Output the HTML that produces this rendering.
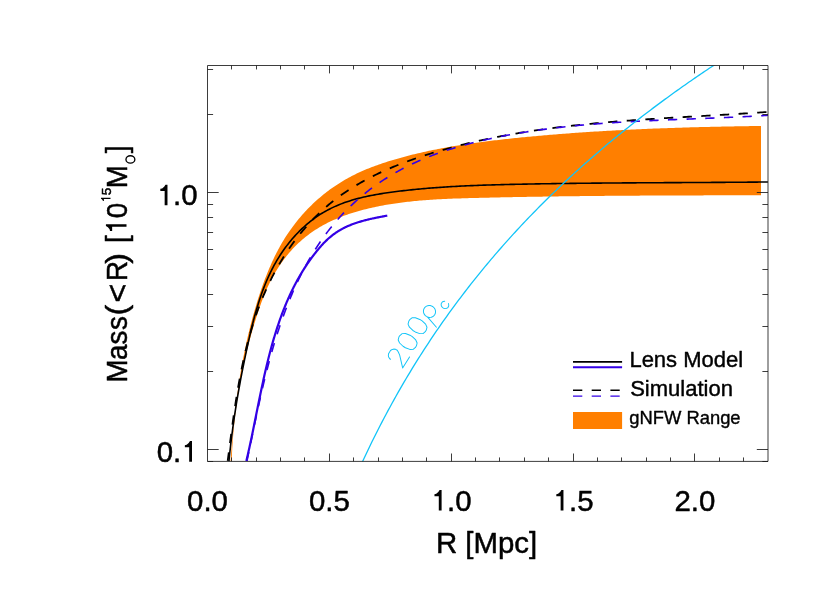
<!DOCTYPE html>
<html><head><meta charset="utf-8"><title>Mass profile</title>
<style>html,body{margin:0;padding:0;background:#fff;font-family:"Liberation Sans",sans-serif}svg{display:block}</style></head>
<body>
<svg width="830" height="593" viewBox="0 0 830 593" style="display:block">
<rect width="830" height="593" fill="#fff"/>
<defs><clipPath id="cp"><rect x="207.5" y="65.5" width="560.5" height="395.9"/></clipPath></defs>
<g clip-path="url(#cp)" fill="none" stroke-linecap="butt" stroke-linejoin="round">
<path d="M230.58,461.20 L230.71,459.36 L230.84,457.53 L230.97,455.70 L231.11,453.86 L231.24,452.02 L231.38,450.19 L231.53,448.35 L231.67,446.51 L231.82,444.67 L231.98,442.83 L232.13,441.00 L232.29,439.16 L232.45,437.32 L232.62,435.48 L232.78,433.64 L232.96,431.79 L233.13,429.95 L233.31,428.11 L233.49,426.27 L233.68,424.43 L233.86,422.59 L234.06,420.75 L234.25,418.90 L234.45,417.06 L234.66,415.22 L234.87,413.38 L235.08,411.54 L235.29,409.70 L235.51,407.86 L235.74,406.02 L235.96,404.18 L236.20,402.34 L236.43,400.50 L236.67,398.66 L236.92,396.82 L237.17,394.98 L237.42,393.14 L237.68,391.30 L237.94,389.47 L238.21,387.63 L238.48,385.79 L238.76,383.96 L239.04,382.12 L239.33,380.29 L239.62,378.46 L239.91,376.63 L240.22,374.79 L240.52,372.96 L240.83,371.13 L241.15,369.31 L241.47,367.48 L241.80,365.65 L242.13,363.82 L242.47,362.00 L242.81,360.18 L243.16,358.35 L243.51,356.53 L243.87,354.71 L244.23,352.89 L244.61,351.08 L244.98,349.26 L245.36,347.45 L245.75,345.63 L246.14,343.82 L246.54,342.01 L246.95,340.20 L247.36,338.39 L247.78,336.59 L248.20,334.78 L248.63,332.98 L249.07,331.18 L249.51,329.38 L249.96,327.58 L250.41,325.79 L250.87,323.99 L251.34,322.20 L251.82,320.41 L252.30,318.62 L252.79,316.84 L253.28,315.05 L253.78,313.27 L254.29,311.49 L254.80,309.71 L255.32,307.93 L255.85,306.16 L256.39,304.39 L256.93,302.62 L257.48,300.85 L258.04,299.08 L258.60,297.32 L259.17,295.56 L259.75,293.80 L260.34,292.05 L260.93,290.29 L261.54,288.54 L262.15,286.80 L262.76,285.05 L263.39,283.31 L264.03,281.58 L264.68,279.84 L265.33,278.12 L266.00,276.39 L266.68,274.67 L267.36,272.96 L268.06,271.25 L268.77,269.54 L269.49,267.84 L270.22,266.15 L270.97,264.46 L271.72,262.78 L272.49,261.10 L273.27,259.43 L274.07,257.77 L274.87,256.11 L275.69,254.46 L276.53,252.81 L277.38,251.18 L278.24,249.55 L279.12,247.93 L280.01,246.31 L280.92,244.71 L281.84,243.11 L282.78,241.52 L283.74,239.94 L284.71,238.37 L285.70,236.81 L286.70,235.25 L287.73,233.71 L288.76,232.17 L289.82,230.65 L290.89,229.13 L291.98,227.63 L293.09,226.14 L294.21,224.65 L295.34,223.18 L296.50,221.72 L297.66,220.27 L298.85,218.83 L300.05,217.41 L301.26,216.00 L302.49,214.60 L303.73,213.21 L304.99,211.83 L306.26,210.47 L307.55,209.12 L308.85,207.79 L310.16,206.47 L311.49,205.16 L312.83,203.87 L314.18,202.60 L315.55,201.34 L316.93,200.09 L318.32,198.86 L319.72,197.64 L321.14,196.45 L322.57,195.26 L324.01,194.10 L325.46,192.95 L326.92,191.82 L328.40,190.70 L329.88,189.60 L331.38,188.52 L332.89,187.46 L334.40,186.42 L335.93,185.39 L337.47,184.38 L339.02,183.39 L340.58,182.41 L342.15,181.46 L343.73,180.52 L345.32,179.59 L346.92,178.69 L348.53,177.80 L350.14,176.92 L351.77,176.07 L353.41,175.23 L355.05,174.40 L356.71,173.60 L358.37,172.81 L360.04,172.03 L361.72,171.28 L363.41,170.54 L365.11,169.81 L366.81,169.10 L368.52,168.40 L370.24,167.72 L371.96,167.05 L373.69,166.40 L375.43,165.76 L377.17,165.13 L378.92,164.51 L380.67,163.91 L382.43,163.32 L384.19,162.73 L385.95,162.16 L387.72,161.60 L389.49,161.05 L391.26,160.50 L393.04,159.97 L394.82,159.44 L396.60,158.93 L398.38,158.42 L400.16,157.92 L401.95,157.42 L403.74,156.93 L405.53,156.46 L407.32,155.98 L409.11,155.52 L410.90,155.06 L412.70,154.61 L414.50,154.17 L416.29,153.73 L418.10,153.31 L419.90,152.88 L421.70,152.47 L423.50,152.06 L425.31,151.66 L427.12,151.26 L428.93,150.87 L430.74,150.49 L432.55,150.12 L434.36,149.74 L436.18,149.38 L437.99,149.02 L439.81,148.67 L441.63,148.32 L443.44,147.98 L445.26,147.65 L447.09,147.31 L448.91,146.99 L450.73,146.67 L452.56,146.36 L454.38,146.05 L456.21,145.74 L458.03,145.44 L459.86,145.15 L461.69,144.86 L463.52,144.57 L465.35,144.29 L467.18,144.02 L469.02,143.75 L470.85,143.48 L472.68,143.22 L474.52,142.96 L476.35,142.70 L478.19,142.45 L480.03,142.20 L481.86,141.96 L483.70,141.72 L485.54,141.48 L487.38,141.25 L489.22,141.02 L491.06,140.80 L492.90,140.57 L494.74,140.35 L496.58,140.14 L498.42,139.92 L500.27,139.71 L502.11,139.50 L503.95,139.30 L505.79,139.09 L507.64,138.89 L509.48,138.70 L511.32,138.50 L513.17,138.31 L515.01,138.12 L516.86,137.93 L518.70,137.74 L520.54,137.55 L522.39,137.37 L524.23,137.19 L526.08,137.01 L527.92,136.83 L529.77,136.65 L531.61,136.48 L533.46,136.31 L535.30,136.14 L537.15,135.97 L539.00,135.80 L540.84,135.64 L542.69,135.48 L544.53,135.31 L546.38,135.16 L548.22,135.00 L550.07,134.84 L551.92,134.69 L553.76,134.54 L555.61,134.39 L557.46,134.24 L559.30,134.09 L561.15,133.94 L563.00,133.80 L564.84,133.66 L566.69,133.52 L568.54,133.38 L570.38,133.24 L572.23,133.11 L574.08,132.97 L575.93,132.84 L577.77,132.71 L579.62,132.58 L581.47,132.46 L583.32,132.33 L585.17,132.21 L587.01,132.08 L588.86,131.96 L590.71,131.84 L592.56,131.72 L594.41,131.61 L596.25,131.49 L598.10,131.38 L599.95,131.27 L601.80,131.16 L603.65,131.05 L605.50,130.94 L607.35,130.83 L609.20,130.73 L611.04,130.63 L612.89,130.52 L614.74,130.42 L616.59,130.33 L618.44,130.23 L620.29,130.13 L622.14,130.04 L623.99,129.94 L625.84,129.85 L627.69,129.76 L629.54,129.67 L631.39,129.58 L633.24,129.49 L635.09,129.41 L636.94,129.32 L638.79,129.24 L640.64,129.16 L642.49,129.08 L644.34,129.00 L646.19,128.92 L648.04,128.84 L649.89,128.76 L651.74,128.69 L653.59,128.62 L655.44,128.54 L657.29,128.47 L659.14,128.40 L660.99,128.33 L662.84,128.26 L664.70,128.20 L666.55,128.13 L668.40,128.07 L670.25,128.00 L672.10,127.94 L673.95,127.88 L675.80,127.82 L677.65,127.76 L679.51,127.70 L681.36,127.64 L683.21,127.58 L685.06,127.53 L686.91,127.47 L688.76,127.42 L690.61,127.37 L692.47,127.31 L694.32,127.26 L696.17,127.21 L698.02,127.16 L699.87,127.12 L701.73,127.07 L703.58,127.02 L705.43,126.98 L707.28,126.93 L709.13,126.89 L710.99,126.84 L712.84,126.80 L714.69,126.76 L716.54,126.72 L718.39,126.68 L720.25,126.64 L722.10,126.60 L723.95,126.56 L725.80,126.53 L727.66,126.49 L729.51,126.45 L731.36,126.42 L733.21,126.38 L735.07,126.35 L736.92,126.32 L738.77,126.29 L740.62,126.25 L742.48,126.22 L744.33,126.19 L746.18,126.16 L748.03,126.13 L749.89,126.10 L751.74,126.08 L753.59,126.05 L755.45,126.02 L757.30,126.00 L759.15,125.97 L761.00,125.95 L761.03,195.29 L759.25,195.30 L757.48,195.30 L755.71,195.30 L753.94,195.30 L752.17,195.30 L750.40,195.30 L748.63,195.31 L746.86,195.31 L745.09,195.31 L743.32,195.31 L741.55,195.31 L739.78,195.32 L738.01,195.32 L736.24,195.32 L734.47,195.32 L732.70,195.33 L730.93,195.33 L729.16,195.33 L727.39,195.33 L725.62,195.34 L723.85,195.34 L722.08,195.34 L720.31,195.34 L718.54,195.35 L716.77,195.35 L715.01,195.35 L713.24,195.36 L711.47,195.36 L709.70,195.36 L707.93,195.37 L706.16,195.37 L704.39,195.37 L702.63,195.38 L700.86,195.38 L699.09,195.39 L697.32,195.39 L695.55,195.40 L693.78,195.40 L692.02,195.41 L690.25,195.41 L688.48,195.42 L686.71,195.42 L684.95,195.43 L683.18,195.43 L681.41,195.44 L679.64,195.44 L677.88,195.45 L676.11,195.46 L674.34,195.46 L672.57,195.47 L670.81,195.47 L669.04,195.48 L667.27,195.49 L665.50,195.50 L663.74,195.50 L661.97,195.51 L660.20,195.52 L658.44,195.53 L656.67,195.53 L654.90,195.54 L653.13,195.55 L651.37,195.56 L649.60,195.57 L647.83,195.58 L646.07,195.59 L644.30,195.60 L642.53,195.61 L640.77,195.62 L639.00,195.63 L637.23,195.64 L635.47,195.65 L633.70,195.66 L631.93,195.67 L630.17,195.68 L628.40,195.69 L626.63,195.71 L624.87,195.72 L623.10,195.73 L621.33,195.74 L619.57,195.76 L617.80,195.77 L616.03,195.78 L614.27,195.80 L612.50,195.81 L610.73,195.83 L608.97,195.84 L607.20,195.86 L605.43,195.87 L603.67,195.89 L601.90,195.90 L600.13,195.92 L598.37,195.93 L596.60,195.95 L594.83,195.97 L593.07,195.99 L591.30,196.00 L589.53,196.02 L587.77,196.04 L586.00,196.06 L584.23,196.08 L582.46,196.09 L580.70,196.11 L578.93,196.13 L577.16,196.15 L575.40,196.17 L573.63,196.20 L571.86,196.22 L570.10,196.24 L568.33,196.26 L566.56,196.28 L564.80,196.30 L563.03,196.33 L561.26,196.35 L559.49,196.37 L557.73,196.40 L555.96,196.42 L554.19,196.45 L552.42,196.47 L550.66,196.50 L548.89,196.52 L547.12,196.55 L545.35,196.57 L543.59,196.60 L541.82,196.63 L540.05,196.66 L538.28,196.68 L536.52,196.71 L534.75,196.74 L532.98,196.77 L531.21,196.80 L529.44,196.83 L527.68,196.86 L525.91,196.89 L524.14,196.92 L522.37,196.95 L520.60,196.99 L518.83,197.02 L517.07,197.05 L515.30,197.09 L513.53,197.12 L511.76,197.15 L509.99,197.19 L508.22,197.22 L506.45,197.26 L504.68,197.30 L502.91,197.33 L501.15,197.37 L499.38,197.41 L497.61,197.44 L495.84,197.48 L494.07,197.52 L492.30,197.56 L490.53,197.60 L488.76,197.64 L486.99,197.68 L485.22,197.72 L483.45,197.76 L481.68,197.81 L479.91,197.85 L478.14,197.89 L476.37,197.93 L474.60,197.98 L472.83,198.02 L471.05,198.07 L469.28,198.12 L467.51,198.17 L465.74,198.22 L463.97,198.27 L462.20,198.32 L460.43,198.38 L458.66,198.43 L456.89,198.49 L455.12,198.56 L453.35,198.62 L451.58,198.69 L449.81,198.76 L448.05,198.83 L446.28,198.91 L444.51,198.99 L442.74,199.08 L440.98,199.17 L439.21,199.26 L437.44,199.36 L435.68,199.46 L433.91,199.57 L432.15,199.68 L430.38,199.79 L428.62,199.91 L426.86,200.04 L425.10,200.17 L423.34,200.31 L421.58,200.45 L419.82,200.60 L418.06,200.76 L416.30,200.92 L414.54,201.09 L412.79,201.27 L411.03,201.45 L409.28,201.64 L407.52,201.83 L405.77,202.04 L404.02,202.25 L402.27,202.47 L400.52,202.69 L398.77,202.93 L397.02,203.17 L395.28,203.43 L393.53,203.69 L391.79,203.96 L390.05,204.23 L388.30,204.52 L386.56,204.82 L384.83,205.12 L383.09,205.44 L381.35,205.77 L379.62,206.10 L377.89,206.45 L376.15,206.80 L374.42,207.17 L372.70,207.55 L370.97,207.94 L369.24,208.34 L367.52,208.75 L365.80,209.17 L364.08,209.60 L362.36,210.05 L360.65,210.51 L358.94,210.98 L357.24,211.47 L355.53,211.97 L353.84,212.48 L352.15,213.01 L350.46,213.55 L348.78,214.11 L347.11,214.68 L345.44,215.27 L343.78,215.87 L342.12,216.49 L340.47,217.13 L338.83,217.78 L337.20,218.45 L335.58,219.14 L333.97,219.85 L332.36,220.57 L330.76,221.32 L329.18,222.08 L327.60,222.86 L326.04,223.66 L324.48,224.48 L322.94,225.32 L321.41,226.18 L319.89,227.07 L318.38,227.97 L316.88,228.89 L315.40,229.84 L313.93,230.81 L312.47,231.80 L311.03,232.81 L309.60,233.85 L308.19,234.90 L306.79,235.98 L305.41,237.08 L304.04,238.20 L302.69,239.33 L301.36,240.49 L300.04,241.67 L298.74,242.87 L297.46,244.08 L296.19,245.31 L294.95,246.56 L293.72,247.83 L292.51,249.12 L291.32,250.42 L290.15,251.74 L289.00,253.08 L287.87,254.43 L286.75,255.80 L285.65,257.18 L284.58,258.57 L283.52,259.98 L282.48,261.41 L281.45,262.84 L280.45,264.30 L279.46,265.76 L278.49,267.23 L277.54,268.72 L276.61,270.22 L275.70,271.73 L274.80,273.25 L273.92,274.78 L273.06,276.33 L272.21,277.88 L271.39,279.44 L270.58,281.01 L269.79,282.59 L269.02,284.17 L268.26,285.77 L267.52,287.37 L266.80,288.98 L266.09,290.59 L265.40,292.21 L264.72,293.84 L264.06,295.47 L263.41,297.11 L262.77,298.76 L262.14,300.41 L261.53,302.06 L260.93,303.72 L260.33,305.38 L259.75,307.05 L259.17,308.72 L258.61,310.39 L258.05,312.07 L257.50,313.75 L256.95,315.43 L256.41,317.11 L255.88,318.80 L255.35,320.48 L254.83,322.17 L254.31,323.86 L253.80,325.55 L253.30,327.25 L252.80,328.94 L252.30,330.64 L251.82,332.34 L251.34,334.04 L250.86,335.75 L250.39,337.45 L249.92,339.16 L249.47,340.86 L249.01,342.57 L248.57,344.28 L248.12,346.00 L247.69,347.71 L247.26,349.43 L246.83,351.14 L246.42,352.86 L246.00,354.58 L245.60,356.30 L245.20,358.03 L244.80,359.75 L244.41,361.47 L244.03,363.20 L243.65,364.93 L243.28,366.66 L242.91,368.39 L242.55,370.12 L242.19,371.85 L241.84,373.59 L241.50,375.32 L241.16,377.06 L240.83,378.80 L240.50,380.54 L240.18,382.28 L239.87,384.02 L239.56,385.76 L239.25,387.50 L238.96,389.24 L238.66,390.99 L238.38,392.73 L238.10,394.48 L237.82,396.23 L237.55,397.98 L237.29,399.72 L237.03,401.47 L236.78,403.22 L236.53,404.98 L236.29,406.73 L236.06,408.48 L235.83,410.23 L235.61,411.99 L235.39,413.74 L235.18,415.50 L234.97,417.25 L234.77,419.01 L234.57,420.77 L234.39,422.52 L234.20,424.28 L234.02,426.04 L233.85,427.80 L233.69,429.56 L233.53,431.32 L233.37,433.08 L233.22,434.84 L233.08,436.60 L232.94,438.36 L232.81,440.12 L232.68,441.88 L232.56,443.64 L232.45,445.41 L232.34,447.17 L232.23,448.93 L232.14,450.69 L232.04,452.46 L231.96,454.22 L231.88,455.98 L231.80,457.74 L231.73,459.51 L231.67,461.27Z" fill="#ff7f00" stroke="none"/>
<path d="M228.95,461.35 L229.12,459.52 L229.30,457.69 L229.49,455.86 L229.68,454.03 L229.87,452.21 L230.06,450.39 L230.26,448.57 L230.46,446.75 L230.67,444.94 L230.88,443.13 L231.09,441.32 L231.31,439.51 L231.53,437.71 L231.76,435.91 L231.99,434.11 L232.22,432.31 L232.45,430.51 L232.69,428.72 L232.93,426.92 L233.18,425.13 L233.43,423.34 L233.68,421.55 L233.94,419.77 L234.20,417.98 L234.46,416.20 L234.73,414.42 L235.00,412.63 L235.27,410.85 L235.55,409.08 L235.83,407.30 L236.11,405.52 L236.40,403.74 L236.69,401.97 L236.98,400.20 L237.28,398.42 L237.58,396.65 L237.88,394.88 L238.19,393.11 L238.50,391.33 L238.81,389.56 L239.13,387.79 L239.45,386.02 L239.77,384.25 L240.10,382.48 L240.43,380.71 L240.76,378.94 L241.09,377.17 L241.43,375.40 L241.77,373.63 L242.12,371.86 L242.47,370.09 L242.82,368.32 L243.17,366.55 L243.53,364.78 L243.89,363.01 L244.25,361.24 L244.62,359.46 L244.99,357.69 L245.36,355.91 L245.73,354.14 L246.11,352.36 L246.49,350.58 L246.87,348.80 L247.26,347.02 L247.65,345.24 L248.04,343.46 L248.44,341.68 L248.83,339.89 L249.24,338.11 L249.64,336.32 L250.05,334.54 L250.47,332.75 L250.89,330.97 L251.32,329.18 L251.75,327.40 L252.19,325.62 L252.63,323.84 L253.09,322.06 L253.54,320.28 L254.01,318.51 L254.48,316.73 L254.97,314.96 L255.46,313.19 L255.95,311.43 L256.46,309.67 L256.98,307.91 L257.51,306.15 L258.04,304.40 L258.59,302.65 L259.15,300.91 L259.72,299.17 L260.30,297.44 L260.89,295.71 L261.49,293.99 L262.11,292.27 L262.74,290.56 L263.38,288.85 L264.04,287.15 L264.70,285.46 L265.39,283.77 L266.08,282.09 L266.79,280.41 L267.52,278.75 L268.26,277.09 L269.02,275.44 L269.79,273.79 L270.58,272.16 L271.38,270.53 L272.21,268.91 L273.05,267.30 L273.90,265.70 L274.78,264.11 L275.67,262.53 L276.58,260.96 L277.51,259.40 L278.45,257.85 L279.42,256.31 L280.40,254.78 L281.39,253.27 L282.41,251.77 L283.44,250.27 L284.49,248.80 L285.56,247.33 L286.64,245.88 L287.75,244.45 L288.86,243.02 L290.00,241.62 L291.15,240.22 L292.32,238.85 L293.50,237.49 L294.70,236.14 L295.92,234.81 L297.15,233.50 L298.40,232.21 L299.67,230.94 L300.95,229.68 L302.25,228.44 L303.56,227.22 L304.89,226.02 L306.23,224.84 L307.59,223.68 L308.97,222.54 L310.36,221.42 L311.76,220.32 L313.18,219.25 L314.62,218.19 L316.07,217.16 L317.53,216.15 L319.02,215.16 L320.51,214.20 L322.02,213.26 L323.54,212.34 L325.08,211.45 L326.64,210.59 L328.20,209.75 L329.79,208.93 L331.38,208.14 L332.99,207.37 L334.61,206.63 L336.24,205.90 L337.89,205.20 L339.55,204.53 L341.21,203.87 L342.89,203.24 L344.58,202.62 L346.28,202.03 L347.99,201.45 L349.71,200.90 L351.44,200.36 L353.18,199.84 L354.92,199.34 L356.68,198.85 L358.44,198.39 L360.21,197.93 L361.98,197.50 L363.76,197.08 L365.55,196.67 L367.34,196.28 L369.14,195.90 L370.95,195.53 L372.75,195.18 L374.57,194.84 L376.38,194.51 L378.20,194.19 L380.03,193.88 L381.85,193.59 L383.68,193.30 L385.51,193.02 L387.34,192.75 L389.17,192.49 L391.01,192.24 L392.84,191.99 L394.68,191.75 L396.51,191.52 L398.34,191.30 L400.18,191.07 L402.01,190.86 L403.84,190.65 L405.67,190.44 L407.49,190.24 L409.32,190.04 L411.14,189.85 L412.97,189.66 L414.79,189.48 L416.61,189.30 L418.43,189.12 L420.25,188.95 L422.07,188.79 L423.89,188.63 L425.70,188.47 L427.52,188.31 L429.33,188.17 L431.15,188.02 L432.96,187.88 L434.77,187.74 L436.58,187.60 L438.39,187.47 L440.20,187.34 L442.01,187.22 L443.82,187.10 L445.62,186.98 L447.43,186.87 L449.24,186.76 L451.04,186.65 L452.85,186.54 L454.65,186.44 L456.46,186.34 L458.26,186.25 L460.06,186.16 L461.86,186.07 L463.67,185.98 L465.47,185.89 L467.27,185.81 L469.07,185.73 L470.87,185.65 L472.67,185.58 L474.47,185.50 L476.27,185.43 L478.07,185.37 L479.87,185.30 L481.67,185.23 L483.47,185.17 L485.27,185.11 L487.07,185.05 L488.87,184.99 L490.67,184.94 L492.47,184.89 L494.27,184.83 L496.07,184.78 L497.87,184.73 L499.67,184.68 L501.47,184.64 L503.27,184.59 L505.07,184.55 L506.87,184.50 L508.68,184.46 L510.48,184.42 L512.28,184.38 L514.08,184.34 L515.89,184.30 L517.69,184.26 L519.49,184.23 L521.30,184.19 L523.10,184.15 L524.91,184.12 L526.71,184.08 L528.52,184.05 L530.32,184.01 L532.13,183.98 L533.94,183.95 L535.75,183.91 L537.55,183.88 L539.36,183.85 L541.17,183.82 L542.98,183.79 L544.79,183.76 L546.60,183.73 L548.41,183.71 L550.22,183.68 L552.03,183.65 L553.84,183.62 L555.65,183.60 L557.47,183.57 L559.28,183.55 L561.09,183.52 L562.90,183.50 L564.72,183.47 L566.53,183.45 L568.34,183.43 L570.16,183.41 L571.97,183.38 L573.79,183.36 L575.60,183.34 L577.41,183.32 L579.23,183.30 L581.04,183.28 L582.86,183.26 L584.68,183.24 L586.49,183.22 L588.31,183.20 L590.12,183.19 L591.94,183.17 L593.76,183.15 L595.57,183.13 L597.39,183.12 L599.21,183.10 L601.02,183.09 L602.84,183.07 L604.66,183.05 L606.48,183.04 L608.30,183.02 L610.11,183.01 L611.93,183.00 L613.75,182.98 L615.57,182.97 L617.39,182.95 L619.20,182.94 L621.02,182.93 L622.84,182.92 L624.66,182.90 L626.48,182.89 L628.30,182.88 L630.11,182.87 L631.93,182.86 L633.75,182.84 L635.57,182.83 L637.39,182.82 L639.21,182.81 L641.03,182.80 L642.85,182.79 L644.66,182.78 L646.48,182.77 L648.30,182.76 L650.12,182.75 L651.94,182.74 L653.76,182.73 L655.58,182.72 L657.39,182.71 L659.21,182.70 L661.03,182.69 L662.85,182.68 L664.67,182.67 L666.49,182.66 L668.30,182.65 L670.12,182.64 L671.94,182.63 L673.76,182.62 L675.57,182.61 L677.39,182.60 L679.21,182.59 L681.02,182.58 L682.84,182.57 L684.66,182.56 L686.47,182.56 L688.29,182.55 L690.11,182.54 L691.92,182.53 L693.74,182.52 L695.55,182.51 L697.37,182.50 L699.19,182.49 L701.00,182.48 L702.81,182.47 L704.63,182.46 L706.44,182.45 L708.26,182.44 L710.07,182.43 L711.88,182.42 L713.70,182.40 L715.51,182.39 L717.32,182.38 L719.14,182.37 L720.95,182.36 L722.76,182.35 L724.57,182.34 L726.38,182.32 L728.19,182.31 L730.00,182.30 L731.81,182.29 L733.62,182.27 L735.43,182.26 L737.24,182.25 L739.05,182.23 L740.86,182.22 L742.67,182.21 L744.47,182.19 L746.28,182.18 L748.09,182.16 L749.89,182.15 L751.70,182.13 L753.50,182.11 L755.31,182.10 L757.11,182.08 L758.92,182.06 L760.72,182.05 L762.52,182.03 L764.33,182.01 L766.13,181.99 L767.93,181.98" stroke="#000" stroke-width="1.6"/>
<path d="M227.69,460.99 L227.92,459.21 L228.15,457.42 L228.38,455.63 L228.61,453.84 L228.84,452.05 L229.07,450.25 L229.30,448.45 L229.53,446.65 L229.76,444.85 L229.99,443.04 L230.22,441.23 L230.46,439.42 L230.70,437.61 L230.93,435.80 L231.17,433.98 L231.41,432.17 L231.65,430.35 L231.90,428.53 L232.14,426.71 L232.39,424.88 L232.64,423.06 L232.89,421.24 L233.14,419.41 L233.40,417.58 L233.66,415.75 L233.92,413.92 L234.19,412.09 L234.45,410.26 L234.73,408.43 L235.00,406.60 L235.28,404.77 L235.56,402.93 L235.84,401.10 L236.13,399.27 L236.43,397.43 L236.72,395.60 L237.02,393.77 L237.33,391.93 L237.64,390.10 L237.95,388.27 L238.27,386.43 L238.60,384.60 L238.92,382.77 L239.26,380.94 L239.60,379.11 L239.94,377.28 L240.29,375.45 L240.64,373.62 L241.01,371.79 L241.37,369.97 L241.74,368.14 L242.12,366.32 L242.51,364.49 L242.90,362.67 L243.30,360.85 L243.70,359.03 L244.11,357.21 L244.53,355.40 L244.95,353.59 L245.38,351.77 L245.82,349.96 L246.27,348.16 L246.72,346.35 L247.18,344.55 L247.65,342.74 L248.12,340.94 L248.61,339.15 L249.10,337.35 L249.60,335.56 L250.11,333.77 L250.63,331.98 L251.15,330.20 L251.69,328.42 L252.23,326.64 L252.78,324.87 L253.34,323.09 L253.91,321.32 L254.49,319.56 L255.08,317.80 L255.68,316.04 L256.29,314.28 L256.90,312.53 L257.53,310.78 L258.17,309.04 L258.82,307.30 L259.47,305.56 L260.14,303.83 L260.82,302.10 L261.51,300.37 L262.21,298.65 L262.92,296.94 L263.65,295.22 L264.38,293.52 L265.13,291.81 L265.88,290.11 L266.65,288.42 L267.43,286.73 L268.22,285.05 L269.02,283.37 L269.83,281.70 L270.66,280.03 L271.50,278.37 L272.34,276.71 L273.20,275.06 L274.07,273.42 L274.95,271.78 L275.84,270.15 L276.75,268.52 L277.66,266.90 L278.59,265.29 L279.53,263.69 L280.48,262.09 L281.44,260.50 L282.41,258.91 L283.39,257.34 L284.38,255.77 L285.39,254.21 L286.40,252.66 L287.43,251.12 L288.47,249.58 L289.52,248.05 L290.58,246.54 L291.65,245.03 L292.73,243.53 L293.82,242.04 L294.93,240.55 L296.04,239.08 L297.17,237.62 L298.31,236.16 L299.46,234.72 L300.62,233.29 L301.79,231.86 L302.97,230.45 L304.16,229.05 L305.36,227.65 L306.58,226.27 L307.80,224.90 L309.04,223.54 L310.29,222.19 L311.55,220.85 L312.81,219.53 L314.09,218.21 L315.38,216.91 L316.69,215.62 L318.00,214.34 L319.32,213.07 L320.65,211.82 L322.00,210.58 L323.35,209.35 L324.72,208.13 L326.10,206.93 L327.49,205.74 L328.88,204.56 L330.29,203.40 L331.71,202.25 L333.14,201.11 L334.58,199.99 L336.03,198.88 L337.49,197.78 L338.97,196.70 L340.45,195.62 L341.94,194.56 L343.44,193.52 L344.94,192.48 L346.46,191.46 L347.99,190.45 L349.53,189.46 L351.07,188.47 L352.62,187.50 L354.19,186.53 L355.76,185.58 L357.33,184.64 L358.92,183.72 L360.51,182.80 L362.12,181.90 L363.72,181.00 L365.34,180.12 L366.96,179.25 L368.60,178.38 L370.23,177.53 L371.88,176.69 L373.53,175.86 L375.19,175.04 L376.85,174.23 L378.52,173.43 L380.20,172.64 L381.88,171.86 L383.57,171.09 L385.26,170.33 L386.96,169.58 L388.66,168.84 L390.37,168.10 L392.08,167.38 L393.80,166.66 L395.53,165.96 L397.25,165.26 L398.99,164.57 L400.72,163.89 L402.46,163.22 L404.21,162.55 L405.96,161.90 L407.71,161.25 L409.46,160.61 L411.22,159.98 L412.99,159.35 L414.75,158.73 L416.52,158.12 L418.29,157.52 L420.06,156.93 L421.84,156.34 L423.62,155.76 L425.40,155.18 L427.18,154.62 L428.96,154.06 L430.75,153.50 L432.53,152.95 L434.32,152.41 L436.11,151.88 L437.90,151.35 L439.69,150.82 L441.49,150.30 L443.28,149.79 L445.07,149.29 L446.87,148.79 L448.66,148.29 L450.46,147.80 L452.26,147.32 L454.05,146.84 L455.85,146.37 L457.65,145.90 L459.45,145.44 L461.25,144.98 L463.06,144.53 L464.86,144.08 L466.66,143.64 L468.47,143.21 L470.27,142.78 L472.08,142.35 L473.88,141.93 L475.69,141.52 L477.50,141.11 L479.31,140.70 L481.11,140.30 L482.92,139.91 L484.73,139.52 L486.55,139.13 L488.36,138.75 L490.17,138.38 L491.98,138.01 L493.80,137.64 L495.61,137.28 L497.43,136.92 L499.24,136.57 L501.06,136.22 L502.88,135.88 L504.69,135.54 L506.51,135.20 L508.33,134.87 L510.15,134.54 L511.97,134.22 L513.79,133.90 L515.61,133.59 L517.43,133.28 L519.25,132.97 L521.08,132.67 L522.90,132.37 L524.73,132.08 L526.55,131.79 L528.37,131.50 L530.20,131.22 L532.03,130.94 L533.85,130.67 L535.68,130.40 L537.51,130.13 L539.34,129.87 L541.16,129.61 L542.99,129.35 L544.82,129.10 L546.65,128.85 L548.48,128.60 L550.32,128.36 L552.15,128.12 L553.98,127.88 L555.81,127.65 L557.64,127.42 L559.48,127.19 L561.31,126.97 L563.15,126.75 L564.98,126.53 L566.81,126.32 L568.65,126.11 L570.49,125.90 L572.32,125.69 L574.16,125.49 L576.00,125.29 L577.83,125.09 L579.67,124.90 L581.51,124.71 L583.35,124.52 L585.19,124.33 L587.03,124.15 L588.87,123.97 L590.70,123.79 L592.54,123.61 L594.39,123.44 L596.23,123.27 L598.07,123.10 L599.91,122.93 L601.75,122.76 L603.59,122.60 L605.43,122.44 L607.28,122.28 L609.12,122.13 L610.96,121.97 L612.81,121.82 L614.65,121.67 L616.49,121.52 L618.34,121.37 L620.18,121.23 L622.03,121.08 L623.87,120.94 L625.72,120.80 L627.56,120.67 L629.41,120.53 L631.25,120.39 L633.10,120.26 L634.94,120.13 L636.79,120.00 L638.64,119.87 L640.48,119.74 L642.33,119.62 L644.18,119.49 L646.02,119.37 L647.87,119.25 L649.72,119.12 L651.57,119.00 L653.41,118.88 L655.26,118.77 L657.11,118.65 L658.96,118.53 L660.81,118.42 L662.65,118.30 L664.50,118.19 L666.35,118.08 L668.20,117.97 L670.05,117.85 L671.90,117.74 L673.74,117.63 L675.59,117.52 L677.44,117.42 L679.29,117.31 L681.14,117.20 L682.99,117.09 L684.84,116.99 L686.69,116.88 L688.53,116.77 L690.38,116.67 L692.23,116.56 L694.08,116.45 L695.93,116.35 L697.78,116.24 L699.63,116.14 L701.48,116.03 L703.32,115.93 L705.17,115.82 L707.02,115.72 L708.87,115.61 L710.72,115.51 L712.57,115.40 L714.42,115.29 L716.26,115.19 L718.11,115.08 L719.96,114.97 L721.81,114.86 L723.66,114.76 L725.50,114.65 L727.35,114.54 L729.20,114.43 L731.05,114.32 L732.89,114.21 L734.74,114.09 L736.59,113.98 L738.44,113.87 L740.28,113.75 L742.13,113.64 L743.98,113.52 L745.82,113.40 L747.67,113.29 L749.51,113.17 L751.36,113.05 L753.20,112.92 L755.05,112.80 L756.90,112.68 L758.74,112.55 L760.58,112.43 L762.43,112.30 L764.27,112.17 L766.12,112.04 L767.96,111.91" stroke="#000" stroke-width="1.8" stroke-dasharray="9.3 9.370" stroke-dashoffset="0.684"/>
<path d="M246.35,460.92 L246.52,460.21 L246.69,459.49 L246.86,458.77 L247.03,458.06 L247.19,457.34 L247.36,456.62 L247.53,455.90 L247.69,455.18 L247.86,454.45 L248.02,453.73 L248.19,453.01 L248.35,452.28 L248.52,451.56 L248.68,450.83 L248.84,450.11 L249.00,449.38 L249.16,448.65 L249.32,447.92 L249.48,447.20 L249.64,446.47 L249.80,445.74 L249.96,445.00 L250.12,444.27 L250.28,443.54 L250.43,442.81 L250.59,442.07 L250.75,441.34 L250.90,440.60 L251.06,439.87 L251.22,439.13 L251.37,438.40 L251.53,437.66 L251.68,436.92 L251.83,436.18 L251.99,435.44 L252.14,434.71 L252.30,433.97 L252.45,433.23 L252.60,432.48 L252.75,431.74 L252.91,431.00 L253.06,430.26 L253.21,429.52 L253.36,428.77 L253.51,428.03 L253.67,427.28 L253.82,426.54 L253.97,425.79 L254.12,425.05 L254.27,424.30 L254.42,423.56 L254.57,422.81 L254.72,422.06 L254.87,421.32 L255.02,420.57 L255.18,419.82 L255.33,419.07 L255.48,418.32 L255.63,417.57 L255.78,416.82 L255.93,416.07 L256.08,415.32 L256.23,414.57 L256.38,413.82 L256.53,413.07 L256.68,412.32 L256.83,411.57 L256.98,410.81 L257.14,410.06 L257.29,409.31 L257.44,408.56 L257.59,407.80 L257.74,407.05 L257.89,406.30 L258.05,405.54 L258.20,404.79 L258.35,404.04 L258.50,403.28 L258.66,402.53 L258.81,401.77 L258.96,401.02 L259.12,400.26 L259.27,399.51 L259.42,398.75 L259.58,398.00 L259.73,397.24 L259.89,396.49 L260.05,395.73 L260.20,394.98 L260.36,394.22 L260.51,393.46 L260.67,392.71 L260.83,391.95 L260.99,391.20 L261.15,390.44 L261.30,389.68 L261.46,388.93 L261.62,388.17 L261.78,387.42 L261.94,386.66 L262.11,385.90 L262.27,385.15 L262.43,384.39 L262.59,383.64 L262.76,382.88 L262.92,382.12 L263.08,381.37 L263.25,380.61 L263.42,379.86 L263.58,379.10 L263.75,378.35 L263.92,377.59 L264.08,376.84 L264.25,376.08 L264.42,375.33 L264.59,374.57 L264.76,373.82 L264.94,373.06 L265.11,372.31 L265.28,371.55 L265.45,370.80 L265.63,370.05 L265.80,369.29 L265.98,368.54 L266.16,367.79 L266.34,367.03 L266.51,366.28 L266.69,365.53 L266.87,364.78 L267.05,364.02 L267.24,363.27 L267.42,362.52 L267.60,361.77 L267.79,361.02 L267.97,360.27 L268.16,359.52 L268.35,358.77 L268.53,358.02 L268.72,357.27 L268.91,356.52 L269.10,355.77 L269.30,355.02 L269.49,354.28 L269.68,353.53 L269.88,352.78 L270.07,352.03 L270.27,351.29 L270.47,350.54 L270.67,349.80 L270.87,349.05 L271.07,348.31 L271.27,347.56 L271.48,346.82 L271.68,346.08 L271.89,345.33 L272.10,344.59 L272.31,343.85 L272.51,343.11 L272.73,342.37 L272.94,341.63 L273.15,340.89 L273.37,340.15 L273.58,339.41 L273.80,338.67 L274.02,337.93 L274.24,337.20 L274.46,336.46 L274.68,335.73 L274.90,334.99 L275.13,334.26 L275.35,333.52 L275.58,332.79 L275.81,332.06 L276.04,331.32 L276.27,330.59 L276.50,329.86 L276.74,329.13 L276.97,328.40 L277.21,327.67 L277.45,326.94 L277.69,326.22 L277.93,325.49 L278.18,324.76 L278.42,324.04 L278.67,323.31 L278.91,322.59 L279.16,321.87 L279.41,321.14 L279.67,320.42 L279.92,319.70 L280.18,318.98 L280.43,318.26 L280.69,317.54 L280.95,316.83 L281.21,316.11 L281.48,315.39 L281.74,314.68 L282.01,313.96 L282.28,313.25 L282.55,312.54 L282.82,311.83 L283.09,311.11 L283.37,310.40 L283.65,309.70 L283.93,308.99 L284.21,308.28 L284.49,307.57 L284.77,306.87 L285.06,306.16 L285.35,305.46 L285.64,304.76 L285.93,304.05 L286.22,303.35 L286.52,302.65 L286.81,301.95 L287.11,301.26 L287.41,300.56 L287.72,299.86 L288.02,299.17 L288.33,298.48 L288.64,297.78 L288.95,297.09 L289.26,296.40 L289.57,295.71 L289.89,295.02 L290.21,294.33 L290.53,293.65 L290.85,292.96 L291.17,292.28 L291.50,291.59 L291.83,290.91 L292.16,290.23 L292.49,289.55 L292.83,288.87 L293.16,288.20 L293.50,287.52 L293.84,286.84 L294.19,286.17 L294.53,285.50 L294.88,284.82 L295.23,284.15 L295.58,283.49 L295.94,282.82 L296.29,282.15 L296.65,281.48 L297.01,280.82 L297.38,280.16 L297.74,279.50 L298.11,278.83 L298.48,278.18 L298.85,277.52 L299.23,276.86 L299.60,276.21 L299.98,275.55 L300.36,274.90 L300.75,274.25 L301.14,273.60 L301.52,272.95 L301.92,272.30 L302.31,271.65 L302.70,271.01 L303.10,270.37 L303.50,269.72 L303.91,269.08 L304.31,268.44 L304.72,267.81 L305.13,267.17 L305.55,266.54 L305.96,265.90 L306.38,265.27 L306.80,264.64 L307.22,264.01 L307.65,263.38 L308.08,262.76 L308.51,262.13 L308.94,261.51 L309.38,260.89 L309.82,260.27 L310.26,259.65 L310.70,259.03 L311.15,258.42 L311.60,257.80 L312.05,257.19 L312.51,256.58 L312.97,255.97 L313.43,255.36 L313.89,254.76 L314.36,254.15 L314.82,253.55 L315.30,252.95 L315.77,252.35 L316.25,251.75 L316.73,251.15 L317.21,250.56 L317.70,249.96 L318.18,249.37 L318.68,248.78 L319.17,248.20 L319.67,247.61 L320.17,247.03 L320.67,246.45 L321.18,245.88 L321.69,245.31 L322.21,244.74 L322.73,244.17 L323.25,243.61 L323.78,243.06 L324.31,242.51 L324.85,241.96 L325.39,241.42 L325.94,240.88 L326.49,240.35 L327.05,239.83 L327.61,239.31 L328.17,238.79 L328.74,238.28 L329.32,237.78 L329.90,237.29 L330.48,236.80 L331.07,236.31 L331.66,235.83 L332.26,235.36 L332.86,234.90 L333.47,234.44 L334.08,233.99 L334.70,233.54 L335.32,233.10 L335.95,232.67 L336.58,232.24 L337.22,231.83 L337.86,231.41 L338.50,231.01 L339.15,230.61 L339.81,230.22 L340.47,229.84 L341.13,229.46 L341.80,229.09 L342.47,228.73 L343.15,228.37 L343.83,228.02 L344.52,227.68 L345.21,227.34 L345.90,227.01 L346.59,226.69 L347.29,226.37 L348.00,226.06 L348.70,225.76 L349.41,225.46 L350.13,225.16 L350.84,224.88 L351.56,224.59 L352.28,224.32 L353.01,224.04 L353.73,223.78 L354.46,223.52 L355.19,223.26 L355.93,223.01 L356.66,222.76 L357.40,222.52 L358.14,222.29 L358.88,222.05 L359.62,221.83 L360.37,221.60 L361.12,221.38 L361.86,221.17 L362.61,220.96 L363.36,220.75 L364.11,220.55 L364.86,220.35 L365.62,220.15 L366.37,219.96 L367.12,219.77 L367.88,219.59 L368.63,219.41 L369.39,219.23 L370.14,219.05 L370.90,218.88 L371.65,218.71 L372.41,218.54 L373.16,218.38 L373.91,218.22 L374.67,218.06 L375.42,217.90 L376.17,217.75 L376.92,217.60 L377.67,217.45 L378.42,217.30 L379.17,217.15 L379.92,217.01 L380.66,216.87 L381.41,216.73 L382.15,216.59 L382.89,216.45 L383.63,216.31 L384.36,216.18 L385.10,216.04 L385.83,215.91 L386.56,215.78 L387.29,215.64" stroke="#3300e6" stroke-width="2.2"/>
<path d="M246.95,461.14 L247.31,459.41 L247.67,457.67 L248.03,455.94 L248.39,454.21 L248.75,452.47 L249.11,450.73 L249.47,448.99 L249.83,447.25 L250.19,445.51 L250.55,443.77 L250.91,442.03 L251.27,440.28 L251.63,438.53 L251.99,436.79 L252.35,435.04 L252.72,433.29 L253.08,431.54 L253.44,429.79 L253.81,428.04 L254.17,426.29 L254.54,424.54 L254.91,422.78 L255.28,421.03 L255.65,419.27 L256.02,417.52 L256.39,415.76 L256.77,414.01 L257.14,412.25 L257.52,410.50 L257.90,408.74 L258.29,406.99 L258.67,405.23 L259.06,403.47 L259.44,401.72 L259.84,399.96 L260.23,398.21 L260.63,396.45 L261.02,394.70 L261.43,392.94 L261.83,391.19 L262.24,389.43 L262.65,387.68 L263.06,385.92 L263.47,384.17 L263.89,382.42 L264.32,380.67 L264.74,378.92 L265.17,377.17 L265.60,375.42 L266.04,373.67 L266.48,371.92 L266.92,370.17 L267.37,368.43 L267.82,366.68 L268.28,364.94 L268.74,363.20 L269.20,361.46 L269.67,359.72 L270.14,357.98 L270.62,356.24 L271.10,354.51 L271.59,352.77 L272.08,351.04 L272.58,349.31 L273.08,347.58 L273.59,345.85 L274.10,344.13 L274.62,342.40 L275.14,340.68 L275.67,338.96 L276.20,337.24 L276.74,335.53 L277.28,333.81 L277.83,332.10 L278.39,330.39 L278.95,328.68 L279.52,326.98 L280.09,325.27 L280.67,323.57 L281.26,321.87 L281.85,320.18 L282.45,318.49 L283.06,316.79 L283.67,315.11 L284.29,313.42 L284.91,311.74 L285.55,310.06 L286.19,308.38 L286.83,306.71 L287.49,305.04 L288.15,303.37 L288.82,301.70 L289.49,300.04 L290.18,298.38 L290.87,296.73 L291.57,295.07 L292.27,293.42 L292.99,291.78 L293.71,290.13 L294.44,288.50 L295.18,286.86 L295.93,285.23 L296.68,283.60 L297.44,281.98 L298.22,280.35 L299.00,278.74 L299.79,277.13 L300.58,275.52 L301.39,273.91 L302.21,272.31 L303.03,270.72 L303.86,269.13 L304.71,267.54 L305.56,265.96 L306.42,264.39 L307.29,262.82 L308.17,261.26 L309.06,259.70 L309.96,258.15 L310.87,256.60 L311.79,255.06 L312.72,253.53 L313.65,252.00 L314.60,250.48 L315.56,248.97 L316.53,247.46 L317.51,245.96 L318.50,244.47 L319.50,242.98 L320.51,241.50 L321.53,240.03 L322.57,238.57 L323.61,237.11 L324.66,235.66 L325.73,234.22 L326.80,232.79 L327.89,231.37 L328.99,229.95 L330.10,228.55 L331.22,227.15 L332.35,225.76 L333.49,224.38 L334.65,223.01 L335.81,221.65 L336.99,220.30 L338.17,218.95 L339.37,217.62 L340.58,216.29 L341.79,214.98 L343.02,213.67 L344.26,212.38 L345.51,211.09 L346.77,209.81 L348.04,208.55 L349.32,207.29 L350.61,206.05 L351.91,204.81 L353.22,203.59 L354.54,202.37 L355.87,201.17 L357.20,199.97 L358.55,198.79 L359.91,197.62 L361.28,196.46 L362.65,195.31 L364.04,194.17 L365.43,193.04 L366.84,191.93 L368.25,190.82 L369.67,189.73 L371.10,188.65 L372.54,187.58 L373.99,186.52 L375.45,185.47 L376.91,184.43 L378.39,183.41 L379.87,182.39 L381.36,181.39 L382.85,180.40 L384.36,179.42 L385.87,178.46 L387.39,177.50 L388.92,176.56 L390.45,175.62 L391.99,174.70 L393.54,173.79 L395.09,172.89 L396.66,172.00 L398.22,171.13 L399.80,170.26 L401.38,169.41 L402.97,168.57 L404.56,167.74 L406.16,166.92 L407.76,166.11 L409.37,165.31 L410.99,164.53 L412.61,163.76 L414.23,162.99 L415.87,162.24 L417.50,161.50 L419.14,160.78 L420.79,160.06 L422.44,159.35 L424.10,158.66 L425.75,157.98 L427.42,157.30 L429.09,156.64 L430.76,155.99 L432.43,155.35 L434.11,154.72 L435.80,154.09 L437.49,153.48 L439.18,152.88 L440.87,152.29 L442.57,151.71 L444.27,151.13 L445.97,150.57 L447.68,150.01 L449.39,149.46 L451.10,148.92 L452.82,148.39 L454.54,147.87 L456.26,147.36 L457.98,146.85 L459.71,146.35 L461.44,145.86 L463.16,145.38 L464.90,144.90 L466.63,144.43 L468.37,143.97 L470.10,143.51 L471.84,143.06 L473.58,142.62 L475.32,142.18 L477.07,141.75 L478.81,141.33 L480.56,140.91 L482.30,140.50 L484.05,140.09 L485.80,139.69 L487.55,139.30 L489.30,138.91 L491.05,138.52 L492.80,138.14 L494.55,137.77 L496.31,137.40 L498.06,137.04 L499.82,136.68 L501.58,136.33 L503.34,135.98 L505.09,135.64 L506.85,135.30 L508.62,134.97 L510.38,134.65 L512.14,134.33 L513.90,134.01 L515.67,133.70 L517.43,133.39 L519.20,133.09 L520.97,132.79 L522.74,132.50 L524.51,132.21 L526.28,131.93 L528.05,131.65 L529.82,131.38 L531.59,131.11 L533.36,130.84 L535.14,130.58 L536.91,130.32 L538.68,130.07 L540.46,129.82 L542.24,129.58 L544.01,129.34 L545.79,129.10 L547.57,128.87 L549.35,128.64 L551.13,128.42 L552.91,128.20 L554.69,127.98 L556.47,127.77 L558.26,127.56 L560.04,127.35 L561.82,127.15 L563.61,126.95 L565.39,126.76 L567.18,126.57 L568.96,126.38 L570.75,126.20 L572.53,126.01 L574.32,125.84 L576.11,125.66 L577.90,125.49 L579.69,125.32 L581.48,125.16 L583.27,125.00 L585.06,124.84 L586.85,124.68 L588.64,124.53 L590.43,124.38 L592.22,124.23 L594.01,124.08 L595.80,123.94 L597.60,123.80 L599.39,123.66 L601.18,123.53 L602.98,123.40 L604.77,123.27 L606.57,123.14 L608.36,123.01 L610.16,122.89 L611.95,122.77 L613.75,122.65 L615.54,122.54 L617.34,122.42 L619.14,122.31 L620.93,122.20 L622.73,122.09 L624.53,121.99 L626.32,121.88 L628.12,121.78 L629.92,121.68 L631.72,121.58 L633.51,121.48 L635.31,121.39 L637.11,121.29 L638.91,121.20 L640.71,121.11 L642.50,121.02 L644.30,120.93 L646.10,120.84 L647.90,120.75 L649.70,120.67 L651.50,120.59 L653.29,120.50 L655.09,120.42 L656.89,120.34 L658.69,120.26 L660.49,120.18 L662.29,120.11 L664.08,120.03 L665.88,119.95 L667.68,119.88 L669.48,119.80 L671.28,119.73 L673.07,119.65 L674.87,119.58 L676.67,119.51 L678.47,119.44 L680.26,119.36 L682.06,119.29 L683.86,119.22 L685.66,119.15 L687.45,119.08 L689.25,119.01 L691.04,118.94 L692.84,118.87 L694.64,118.80 L696.43,118.73 L698.23,118.66 L700.02,118.58 L701.82,118.51 L703.61,118.44 L705.40,118.37 L707.20,118.30 L708.99,118.23 L710.78,118.15 L712.58,118.08 L714.37,118.01 L716.16,117.93 L717.95,117.86 L719.74,117.78 L721.53,117.70 L723.32,117.63 L725.11,117.55 L726.90,117.47 L728.69,117.39 L730.48,117.31 L732.27,117.22 L734.06,117.14 L735.84,117.06 L737.63,116.97 L739.41,116.88 L741.20,116.79 L742.98,116.71 L744.77,116.61 L746.55,116.52 L748.34,116.43 L750.12,116.33 L751.90,116.24 L753.68,116.14 L755.46,116.04 L757.24,115.93 L759.02,115.83 L760.80,115.72 L762.58,115.62 L764.35,115.51 L766.13,115.40 L767.91,115.28" stroke="#3300e6" stroke-width="1.6" stroke-dasharray="9.3 9.367" stroke-dashoffset="0.113"/>
<path d="M341.53,510.34 L343.55,505.33 L345.57,500.40 L347.59,495.53 L349.61,490.74 L351.64,486.01 L353.66,481.35 L355.68,476.75 L357.70,472.22 L359.72,467.74 L361.74,463.33 L363.76,458.97 L365.78,454.67 L367.80,450.42 L369.82,446.23 L371.84,442.08 L373.86,437.99 L375.88,433.95 L377.90,429.95 L379.92,426.01 L381.94,422.11 L383.97,418.25 L385.99,414.44 L388.01,410.67 L390.03,406.94 L392.05,403.25 L394.07,399.61 L396.09,396.00 L398.11,392.43 L400.13,388.90 L402.15,385.41 L404.17,381.95 L406.19,378.53 L408.21,375.14 L410.23,371.79 L412.25,368.46 L414.27,365.18 L416.29,361.92 L418.32,358.70 L420.34,355.50 L422.36,352.34 L424.38,349.20 L426.40,346.10 L428.42,343.02 L430.44,339.97 L432.46,336.95 L434.48,333.96 L436.50,330.99 L438.52,328.05 L440.54,325.13 L442.56,322.24 L444.58,319.38 L446.60,316.53 L448.62,313.72 L450.64,310.92 L452.67,308.15 L454.69,305.40 L456.71,302.68 L458.73,299.97 L460.75,297.29 L462.77,294.63 L464.79,291.99 L466.81,289.37 L468.83,286.77 L470.85,284.19 L472.87,281.63 L474.89,279.09 L476.91,276.57 L478.93,274.07 L480.95,271.59 L482.97,269.12 L484.99,266.67 L487.02,264.25 L489.04,261.83 L491.06,259.44 L493.08,257.06 L495.10,254.70 L497.12,252.36 L499.14,250.03 L501.16,247.72 L503.18,245.42 L505.20,243.14 L507.22,240.87 L509.24,238.62 L511.26,236.39 L513.28,234.17 L515.30,231.96 L517.32,229.77 L519.34,227.60 L521.37,225.43 L523.39,223.29 L525.41,221.15 L527.43,219.03 L529.45,216.92 L531.47,214.83 L533.49,212.74 L535.51,210.68 L537.53,208.62 L539.55,206.58 L541.57,204.54 L543.59,202.52 L545.61,200.52 L547.63,198.52 L549.65,196.54 L551.67,194.57 L553.69,192.61 L555.72,190.66 L557.74,188.72 L559.76,186.80 L561.78,184.88 L563.80,182.98 L565.82,181.08 L567.84,179.20 L569.86,177.33 L571.88,175.47 L573.90,173.61 L575.92,171.77 L577.94,169.94 L579.96,168.12 L581.98,166.31 L584.00,164.51 L586.02,162.71 L588.04,160.93 L590.07,159.16 L592.09,157.39 L594.11,155.64 L596.13,153.89 L598.15,152.16 L600.17,150.43 L602.19,148.71 L604.21,147.00 L606.23,145.30 L608.25,143.61 L610.27,141.92 L612.29,140.25 L614.31,138.58 L616.33,136.92 L618.35,135.27 L620.37,133.63 L622.39,131.99 L624.42,130.37 L626.44,128.75 L628.46,127.14 L630.48,125.53 L632.50,123.94 L634.52,122.35 L636.54,120.77 L638.56,119.20 L640.58,117.63 L642.60,116.07 L644.62,114.52 L646.64,112.98 L648.66,111.44 L650.68,109.91 L652.70,108.38 L654.72,106.87 L656.74,105.36 L658.77,103.86 L660.79,102.36 L662.81,100.87 L664.83,99.39 L666.85,97.91 L668.87,96.44 L670.89,94.98 L672.91,93.52 L674.93,92.07 L676.95,90.63 L678.97,89.19 L680.99,87.76 L683.01,86.33 L685.03,84.91 L687.05,83.50 L689.07,82.09 L691.10,80.69 L693.12,79.29 L695.14,77.90 L697.16,76.52 L699.18,75.14 L701.20,73.77 L703.22,72.40 L705.24,71.04 L707.26,69.68 L709.28,68.33 L711.30,66.98 L713.32,65.64 L715.34,64.31 L717.36,62.98 L719.38,61.65 L721.40,60.33 L723.42,59.02 L725.45,57.71 L727.47,56.41 L729.49,55.11 L731.51,53.81 L733.53,52.53 L735.55,51.24 L737.57,49.96 L739.59,48.69 L741.61,47.42 L743.63,46.16" stroke="#12c4f8" stroke-width="1.3"/>
</g>
<g transform="translate(401.16,370.3) rotate(-58) scale(0.93,-0.93)" fill="none" stroke="#12c4f8" stroke-width="1.05" stroke-linejoin="round" stroke-linecap="round">
<path d="M4.00,16.00 L4.00,17.00 L5.00,19.00 L6.00,20.00 L8.00,21.00 L12.00,21.00 L14.00,20.00 L15.00,19.00 L16.00,17.00 L16.00,15.00 L15.00,13.00 L13.00,10.00 L3.00,0.00 L17.00,0.00"/>
<path d="M29.00,21.00 L26.00,20.00 L24.00,17.00 L23.00,12.00 L23.00,9.00 L24.00,4.00 L26.00,1.00 L29.00,0.00 L31.00,0.00 L34.00,1.00 L36.00,4.00 L37.00,9.00 L37.00,12.00 L36.00,17.00 L34.00,20.00 L31.00,21.00 L29.00,21.00"/>
<path d="M49.00,21.00 L46.00,20.00 L44.00,17.00 L43.00,12.00 L43.00,9.00 L44.00,4.00 L46.00,1.00 L49.00,0.00 L51.00,0.00 L54.00,1.00 L56.00,4.00 L57.00,9.00 L57.00,12.00 L56.00,17.00 L54.00,20.00 L51.00,21.00 L49.00,21.00"/>
<path d="M59.40,-7.60 L63.60,6.20 L63.64,6.33 L63.50,7.70 L63.64,9.07 L64.04,10.38 L64.70,11.58 L65.58,12.60 L66.65,13.42 L67.85,13.98 L69.14,14.26 L70.46,14.26 L71.75,13.98 L72.95,13.42 L74.02,12.60 L74.90,11.58 L75.56,10.38 L75.96,9.07 L76.10,7.70 L75.96,6.33 L75.56,5.02 L74.90,3.82 L74.02,2.80 L72.95,1.98 L71.75,1.42 L70.46,1.14 L69.14,1.14 L67.85,1.42 L66.65,1.98 L65.58,2.80 L64.70,3.82 L64.04,5.02 L63.64,6.33"/>
<path d="M87.85,-0.31 L86.67,0.87 L85.49,1.46 L83.72,1.46 L82.54,0.87 L81.36,-0.31 L80.77,-2.08 L80.77,-3.26 L81.36,-5.03 L82.54,-6.21 L83.72,-6.80 L85.49,-6.80 L86.67,-6.21 L87.85,-5.03"/>
</g>
<path d="M207.5,65.5H768.0V461.4H207.5ZM231.50,461.4v-3.95M231.50,65.5v3.95M256.50,461.4v-3.95M256.50,65.5v3.95M280.50,461.4v-3.95M280.50,65.5v3.95M304.50,461.4v-3.95M304.50,65.5v3.95M329.50,461.4v-7.9M329.50,65.5v7.9M353.50,461.4v-3.95M353.50,65.5v3.95M378.50,461.4v-3.95M378.50,65.5v3.95M402.50,461.4v-3.95M402.50,65.5v3.95M426.50,461.4v-3.95M426.50,65.5v3.95M451.50,461.4v-7.9M451.50,65.5v7.9M475.50,461.4v-3.95M475.50,65.5v3.95M499.50,461.4v-3.95M499.50,65.5v3.95M524.50,461.4v-3.95M524.50,65.5v3.95M548.50,461.4v-3.95M548.50,65.5v3.95M573.50,461.4v-7.9M573.50,65.5v7.9M597.50,461.4v-3.95M597.50,65.5v3.95M621.50,461.4v-3.95M621.50,65.5v3.95M646.50,461.4v-3.95M646.50,65.5v3.95M670.50,461.4v-3.95M670.50,65.5v3.95M694.50,461.4v-7.9M694.50,65.5v7.9M719.50,461.4v-3.95M719.50,65.5v3.95M743.50,461.4v-3.95M743.50,65.5v3.95M207.5,461.50h5.6M768.0,461.50h-5.6M207.5,449.50h11.2M768.0,449.50h-11.2M207.5,371.50h5.6M768.0,371.50h-5.6M207.5,326.50h5.6M768.0,326.50h-5.6M207.5,294.50h5.6M768.0,294.50h-5.6M207.5,269.50h5.6M768.0,269.50h-5.6M207.5,249.50h5.6M768.0,249.50h-5.6M207.5,232.50h5.6M768.0,232.50h-5.6M207.5,217.50h5.6M768.0,217.50h-5.6M207.5,204.50h5.6M768.0,204.50h-5.6M207.5,192.50h11.2M768.0,192.50h-11.2M207.5,114.50h5.6M768.0,114.50h-5.6M207.5,69.50h5.6M768.0,69.50h-5.6" fill="none" stroke="#1a1a1a" stroke-width="0.85"/>
<g font-family="Liberation Sans, sans-serif" fill="#000" stroke="#000" stroke-width="0.5" stroke-linejoin="round" opacity="0.999">
<text transform="translate(187.07,510.60)" font-size="29.4" text-anchor="start">0.0</text>
<text transform="translate(308.91,510.60)" font-size="29.4" text-anchor="start">0.5</text>
<path transform="translate(430.76,510.60) scale(29.400,29.400)" d="M0.126,-0.560 L0.187,-0.575 L0.256,-0.632 L0.301,-0.700 L0.369,-0.700 L0.369,0.000 L0.273,0.000 L0.273,-0.488 L0.126,-0.488Z" fill="#000" stroke="none"/><text transform="translate(447.11,510.60)" font-size="29.4" text-anchor="start">.0</text>
<path transform="translate(552.61,510.60) scale(29.400,29.400)" d="M0.126,-0.560 L0.187,-0.575 L0.256,-0.632 L0.301,-0.700 L0.369,-0.700 L0.369,0.000 L0.273,0.000 L0.273,-0.488 L0.126,-0.488Z" fill="#000" stroke="none"/><text transform="translate(568.96,510.60)" font-size="29.4" text-anchor="start">.5</text>
<text transform="translate(674.46,510.60)" font-size="29.4" text-anchor="start">2.0</text>
<path transform="translate(156.63,205.30) scale(29.400,29.400)" d="M0.126,-0.560 L0.187,-0.575 L0.256,-0.632 L0.301,-0.700 L0.369,-0.700 L0.369,0.000 L0.273,0.000 L0.273,-0.488 L0.126,-0.488Z" fill="#000" stroke="none"/><text transform="translate(172.98,205.30)" font-size="29.4" text-anchor="start">.0</text>
<text transform="translate(156.63,461.70)" font-size="29.4" text-anchor="start">0.</text><path transform="translate(181.15,461.70) scale(29.400,29.400)" d="M0.126,-0.560 L0.187,-0.575 L0.256,-0.632 L0.301,-0.700 L0.369,-0.700 L0.369,0.000 L0.273,0.000 L0.273,-0.488 L0.126,-0.488Z" fill="#000" stroke="none"/>
<text transform="translate(486.60,552.80)" font-size="29.4" text-anchor="middle">R [Mpc]</text>
<text transform="translate(126.50,371.05) rotate(-90) scale(0.945,1)" font-size="29.4" text-anchor="middle">M</text>
<text transform="translate(126.50,352.15) rotate(-90) scale(0.945,1)" font-size="29.4" text-anchor="middle">a</text>
<text transform="translate(126.50,337.60) rotate(-90) scale(0.945,1)" font-size="29.4" text-anchor="middle">s</text>
<text transform="translate(126.50,322.95) rotate(-90) scale(0.945,1)" font-size="29.4" text-anchor="middle">s</text>
<text transform="translate(126.50,310.10) rotate(-90) scale(1.0867499999999999,1)" font-size="29.4" text-anchor="middle">(</text>
<text transform="translate(128.20,293.20) rotate(-90) scale(1.0961999999999998,1.05)" font-size="29.4" text-anchor="middle">&lt;</text>
<text transform="translate(126.50,271.00) rotate(-90) scale(0.945,1)" font-size="29.4" text-anchor="middle">R</text>
<text transform="translate(126.50,258.50) rotate(-90) scale(1.0867499999999999,1)" font-size="29.4" text-anchor="middle">)</text>
<text transform="translate(126.50,239.10) rotate(-90) scale(0.945,1)" font-size="29.4" text-anchor="middle">[</text>
<text transform="translate(126.50,210.40) rotate(-90) scale(0.945,1)" font-size="29.4" text-anchor="middle">0</text>
<text transform="translate(126.50,176.75) rotate(-90) scale(0.945,1)" font-size="29.4" text-anchor="middle">M</text>
<text transform="translate(126.50,149.35) rotate(-90) scale(0.945,1)" font-size="29.4" text-anchor="middle">]</text>
<path transform="translate(126.50,234.41) rotate(-90) scale(27.783,29.400)" d="M0.126,-0.560 L0.187,-0.575 L0.256,-0.632 L0.301,-0.700 L0.369,-0.700 L0.369,0.000 L0.273,0.000 L0.273,-0.488 L0.126,-0.488Z" fill="#000" stroke="none"/>
<path transform="translate(110.50,202.77) rotate(-90) scale(13.600,13.600)" d="M0.126,-0.560 L0.187,-0.575 L0.256,-0.632 L0.301,-0.700 L0.369,-0.700 L0.369,0.000 L0.273,0.000 L0.273,-0.488 L0.126,-0.488Z" fill="#000" stroke="none"/>
<text transform="translate(110.50,195.21) rotate(-90)" font-size="13.6" text-anchor="start">5</text>
<ellipse cx="130.4" cy="159.45" rx="4.45" ry="3.7" fill="none" stroke="#000" stroke-width="1.35"/>
<text x="629.4" y="367.1" font-size="22" stroke-width="0.42">Lens Model</text>
<text x="630.2" y="396.0" font-size="22" stroke-width="0.42">Simulation</text>
<text x="629.2" y="424.0" font-size="18.4" stroke-width="0.38">gNFW Range</text>
</g>
<path d="M573,361.9H622.1" stroke="#000" stroke-width="1.8"/>
<path d="M573,367.2H622.1" stroke="#3300e6" stroke-width="2.0"/>
<path d="M573,390.3H622.1" stroke="#000" stroke-width="1.6" stroke-dasharray="9.3 9.4"/>
<path d="M573,396.1H622.1" stroke="#3300e6" stroke-width="1.4" stroke-dasharray="9.3 9.4"/>
<rect x="573" y="412.0" width="49.1" height="17.0" fill="#ff7f00"/>
</svg>
</body></html>
